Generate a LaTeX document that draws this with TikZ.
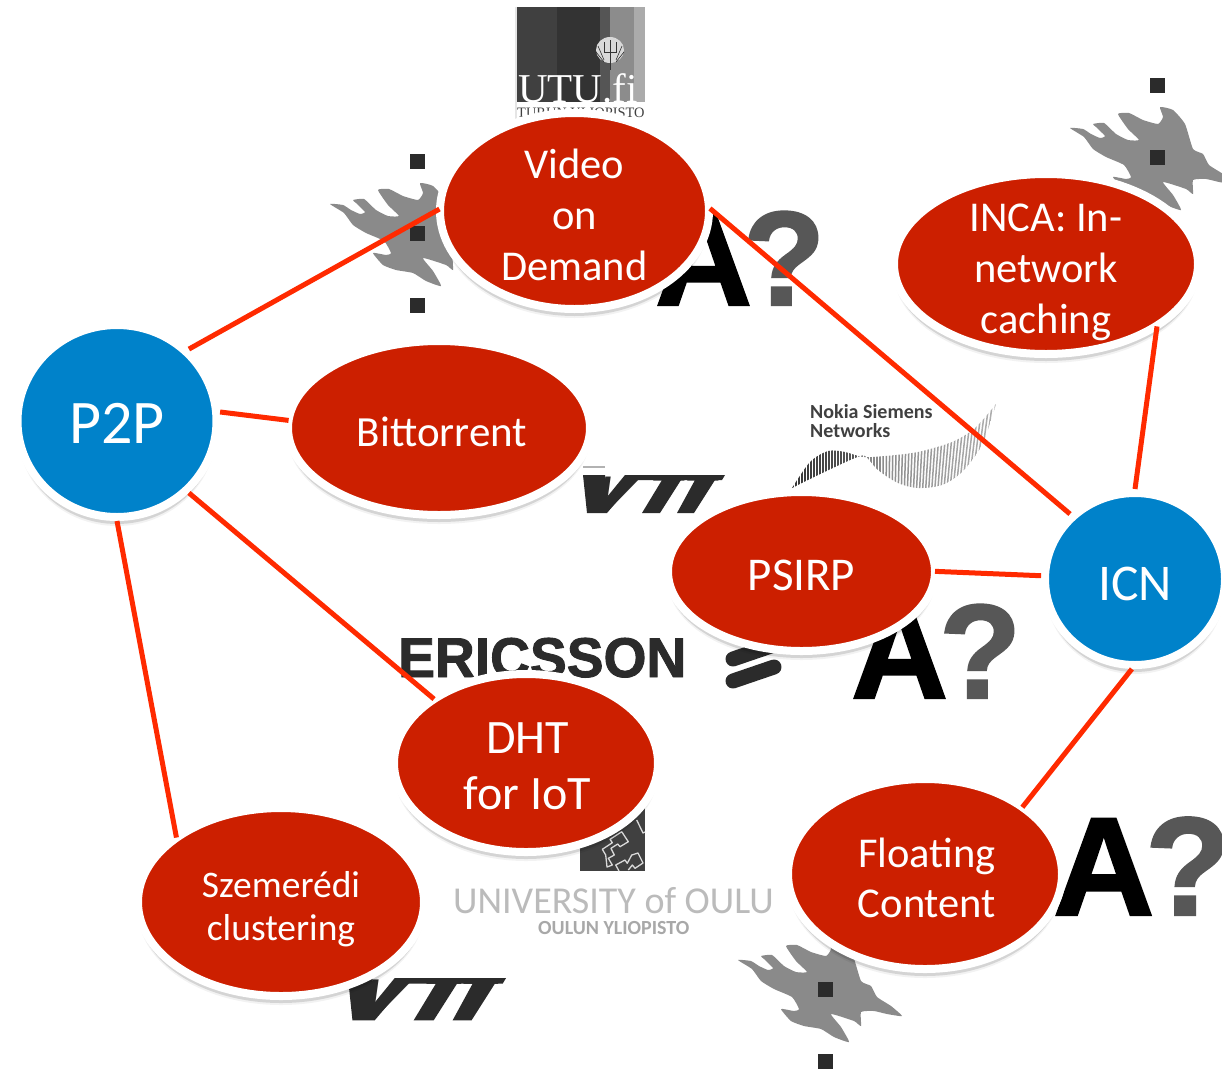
\documentclass[tikz,border=0pt]{standalone}
\usepackage{fontspec}
\setmainfont{Carlito}
\newfontfamily\heavy[BoldFeatures={FakeBold=1.6}]{Liberation Sans}
\newfontfamily\serifl{Liberation Serif}
\usetikzlibrary{shapes.geometric,shadows}
\definecolor{nodered}{HTML}{CC1F00}
\definecolor{nodeblue}{HTML}{0082CA}
\definecolor{linkred}{HTML}{FF2A00}
\definecolor{flamegray}{HTML}{8A8A8A}
\definecolor{inkdark}{HTML}{2B2B2B}
\definecolor{qgray}{HTML}{575757}
\definecolor{ougray}{HTML}{BBBBBB}
\definecolor{stripa}{HTML}{404040}
\definecolor{stripb}{HTML}{333333}
\definecolor{stripc}{HTML}{555555}
\definecolor{stripd}{HTML}{8C8C8C}
\definecolor{stripe}{HTML}{ABABAB}
\tikzset{
 bubble/.style 2 args={ellipse,draw=white,line width=8pt,inner sep=0pt,text=white,
   minimum width=#1 pt,minimum height=#2 pt,
   general shadow={shadow xshift=0pt,shadow yshift=-9pt,opacity=.05,fill=black},
   general shadow={shadow xshift=0pt,shadow yshift=-7pt,opacity=.12,fill=black}},
 redbub/.style 2 args={bubble={#1}{#2},fill=nodered},
 bluebub/.style 2 args={bubble={#1}{#2},fill=nodeblue},
 link/.style={draw=linkred,line width=5pt},
 intored/.style={shorten >=-4pt},
 fromred/.style={shorten <=-4pt},
 logotext/.style={inner sep=0pt,anchor=base west},
 square/.style={fill=inkdark}
}
% text block whose last baseline lies #1 pt above the node centre
\newcommand{\btext}[4]{\raisebox{#1pt}[0pt][0pt]{\fontsize{#2}{#3}\selectfont\begin{tabular}[b]{@{}c@{}}#4\end{tabular}}}
\newcommand{\flame}[2]{\fill[flamegray,shift={(#1,#2)}] plot[smooth cycle,tension=.3] coordinates{
 (-87,-29)(-74,-28)(-66,-23)(-57,-19)(-52,-21)(-61,-30)(-64,-33)(-53,-34)(-41,-23)(-29,-17)(-18,-17)(-29,-28)(-39,-43)(-28,-44)(-14,-37)(1,-33)(6,-40)(3,-50)(16,-47)(28,-33)(36,-8)(46,-3)(52,8)(66,17)(77,27)(62,25)(49,22)(36,23)(36,37)(29,32)(6,25)(16,38)(24,53)(9,48)(-4,40)(-21,37)(-34,32)(-44,20)(-31,22)(-26,20)(-33,8)(-51,0)(-64,-8)(-73,-20)};}
\newcommand{\sq}[2]{\fill[square] (#1-7.5,#2-7.5) rectangle (#1+7.5,#2+7.5);}
% A? mark: name, x of A, baseline, font size, x offset of ?
\newcommand{\aqmark}[5]{%
 \node[logotext,text=black,font=\heavy\bfseries\fontsize{#4}{#4}\selectfont] (#1a) at (#2,#3) {A};
 \node[logotext,text=qgray,font=\heavy\bfseries\fontsize{#4}{#4}\selectfont] (#1q) at (#2+#5,#3) {?};}
% VTT mark: name, x, y of top edge, scale
\newcommand{\vttmark}[4]{%
 \begin{scope}[shift={(#2,#3)},scale=#4]
  \fill[inkdark] (0,0)--(22,0)--(24,22)--(42,0)--(142,0)--(139,5)--(132,5)--(111,38)--(94,38)--(112,5)--(98,5)--(77,38)--(59,38)--(79,5)--(52,5)--(24,38)--(4,38)--cycle;
  \begin{scope}[shift={(0,38)},xslant=.55,xscale=1.04]
  \node[logotext,transform shape,text=inkdark,font=\heavy\fontsize{53}{53}\selectfont] (#1) at (0,0) {\kern2pt V\kern12pt TT};
  \end{scope}
 \end{scope}}
\begin{document}
\begin{tikzpicture}[x=1pt,y=-1pt]
\useasboundingbox (0,0) rectangle (1222,1071);
\fill[white] (0,0) rectangle (1222,1071);

% ---------- UTU logo
\fill[black!10] (515,7) rectangle (517,120);
\fill[stripa] (517,7) rectangle (557,102);
\fill[stripb] (557,7) rectangle (600,102);
\fill[stripc] (600,7) rectangle (610,102);
\fill[stripd] (610,7) rectangle (634,102);
\fill[stripe] (634,7) rectangle (645,102);
\fill[white!85!black] (610,50) circle[x radius=14pt,y radius=13pt];
\draw[stripb,line width=1pt] (610,40)--(610,70) (604,42)--(604,52)--(616,52)--(616,42);
\draw[stripb,line width=.6pt] (598,46)--(604,60) (622,46)--(616,60) (596,52)--(604,62) (624,52)--(616,62);
\node[logotext,text=white,font=\serifl\fontsize{41}{41}\selectfont] (utu) at (518,102) {UTU.fi};
\node[logotext,text=stripa,font=\serifl\fontsize{14.4}{14.4}\selectfont] (utub) at (517,117) {TURUN YLIOPISTO};

% ---------- Helsinki flames
\flame{417}{233}\sq{417}{161}\sq{417}{233}\sq{417}{305}
\flame{1157}{157}\sq{1157}{85}\sq{1157}{157}
\flame{825}{989}\sq{825}{989}\sq{825}{1061}

% ---------- A? marks
\aqmark{aqone}{655}{305}{134}{88}
\aqmark{aqtwo}{851}{698}{134}{88}
\aqmark{aqthree}{1053}{915}{140}{92}

% ---------- VTT marks
\vttmark{vttone}{583}{475}{1}
\draw[black!30,line width=2pt] (583,467)--(605,467);
\vttmark{vtttwo}{348}{978}{1.113}

% ---------- Nokia Siemens Networks
\node[logotext,text=black!75,font=\bfseries\fontsize{20}{20}\selectfont] (nsnone) at (810,418) {Nokia Siemens};
\node[logotext,text=black!75,font=\bfseries\fontsize{20}{20}\selectfont] (nsntwo) at (810,437) {Networks};
\begin{scope}
 \clip plot[smooth,tension=.5] coordinates{(792,488)(810,462)(828,451)(845,452)(863,457)(885,456)(918,452)(952,442)(975,428)(996,404)}
   -- plot[smooth,tension=.5] coordinates{(996,404)(982,445)(962,472)(942,485)(918,488)(898,483)(878,470)(865,456)(855,458)(835,467)(812,478)(792,488)} -- cycle;
 \foreach \xx in {790,793,...,1010}{
  \pgfmathsetmacro{\gr}{\xx<860 ? 80-(\xx-790)/70*15 : 48-(\xx-860)/140*18}
  \pgfmathsetmacro{\tl}{\xx>880 ? (\xx-880)/100*14 : 0}
  \draw[black!\gr,line width=1.5pt] (\xx,500)--(\xx+\tl,400);
 }
\end{scope}

% ---------- Ericsson
\node[logotext,text=inkdark,xscale=.985,font=\heavy\bfseries\fontsize{56}{56}\selectfont] (ericsson) at (398,677) {ERICSSON};
\draw[inkdark,line width=15pt,line cap=round] (733,681)--(774,667) (733,659)--(774,645);

% ---------- Oulu
\fill[stripa] (580,790) rectangle (645,871);
\draw[white!85!black,line width=1.3pt,line join=round]
  (602.3,849.3)--(612.3,842.7)--(610,839.3)--(621.7,831.7)--(628.3,841.7)--(620,846.7)--(617.7,844)--(611,848.3)--(614.3,855)--(608.3,858.3)--(612.3,865)--(607,867)--(605.7,855)--cycle
  (619,871)--(615.7,865)--(625,860)--(627.3,863.3)--(631.7,855)--(638,853)--(643,863)--(635,868.3)--(632.3,865)--(628.3,870)
  (636.7,820)--(643,833)--(645,832);
\node[logotext,text=ougray,font=\fontsize{38}{38}\selectfont] (oulu) at (453,913) {UNIVERSITY of OULU};
\node[logotext,text=ougray!90!black,font=\bfseries\fontsize{20}{20}\selectfont] (oulub) at (538,934) {OULUN YLIOPISTO};

% ---------- nodes
\node[bluebub={199}{192}] (p2p) at (117,421) {\btext{-22}{62}{62}{P2P}};
\node[bluebub={180}{172}] (icn) at (1135,579) {\btext{-21}{51.5}{51}{ICN}};
\node[redbub={269}{196}] (vod) at (574.5,211) {\btext{-69}{42.5}{51}{Video\\on\\Demand}};
\node[redbub={304}{180}] (inca) at (1046,264) {\btext{-69}{42.5}{51}{INCA: In-\\network\\caching}};
\node[redbub={302}{174}] (bit) at (439,428) {\hspace*{6pt}\btext{-18}{43}{51}{Bittorrent}};
\node[redbub={267}{159}] (psirp) at (801.5,571.5) {\btext{-19}{47}{51}{PSIRP}};
\node[redbub={264}{178}] (dht) at (526,763) {\hspace*{3pt}\btext{-46}{48}{56}{DHT\\for IoT}};
\node[redbub={286}{188}] (sze) at (281,902) {\btext{-38}{37.5}{43}{Szemer\'edi\\clustering}};
\node[redbub={274}{190}] (flo) at (925,874) {\hspace*{4pt}\btext{-43}{42.5}{50}{Floating\\Content}};

% ---------- connectors
\draw[link,intored] (p2p.45) -- (vod.180);
\draw[link,fromred] (vod.0) -- (icn.135);
\draw[link,intored] (p2p.5) -- (bit.177);
\draw[link,intored] (p2p.-45) -- (dht.145);
\draw[link,intored] (p2p.-90) -- (sze.147);
\draw[link,fromred] (inca.-31) -- (icn.90);
\draw[link,fromred] (psirp.0) -- (icn.178);
\draw[link,intored] (icn.-92) -- (flo.35);
\end{tikzpicture}
\end{document}
